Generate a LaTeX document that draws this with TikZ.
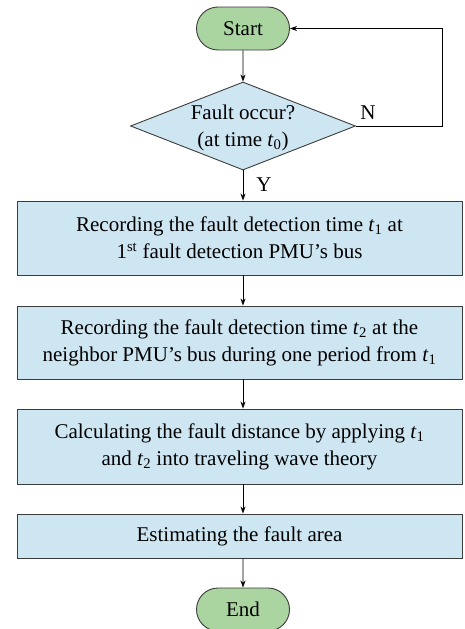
\documentclass[tikz,border=0pt]{standalone}
\usepackage{fontspec}
\setmainfont{Liberation Serif}
\usetikzlibrary{shapes.geometric,shapes.misc,arrows.meta}
\definecolor{termfill}{RGB}{170,212,160}
\definecolor{boxfill}{RGB}{206,230,242}
\definecolor{edge}{RGB}{60,60,60}
\newcommand{\tv}[1]{\textit{t}\textsubscript{#1}}
\begin{document}
\begin{tikzpicture}[x=1pt,y=-1pt,
  every node/.style={font=\fontsize{21}{27}\selectfont},
  term/.style={rounded rectangle, draw=edge, fill=termfill, line width=0.9pt,
    minimum width=93pt, minimum height=43pt, inner sep=0pt},
  decide/.style={diamond, draw=edge, fill=boxfill, line width=0.9pt,
    minimum width=225pt, minimum height=88pt, inner sep=0pt},
  procbox/.style={rectangle, draw=edge, fill=boxfill, line width=0.9pt,
    minimum width=445pt, align=center, inner sep=0pt},
  flow/.style={draw=black, line width=0.8pt, -{Stealth[length=7pt,width=5pt]}},
  lbl/.style={inner sep=0pt}]
\useasboundingbox (0,0) rectangle (464,629);
\node[term] (start) at (243,28.5) {Start};
\node[decide] (dec) at (243,126) {};
\node[lbl, align=center] (dectext) at (243,128) {Fault occur?\\(at time \tv{0})};
\node[procbox, minimum height=74pt] (b1) at (239.5,238) {Recording the fault detection time \tv{1} at\\1\textsuperscript{st} fault detection PMU’s bus};
\node[procbox, minimum height=73pt] (b2) at (239.5,342.5) {Recording the fault detection time \tv{2} at the\\neighbor PMU’s bus during one period from \tv{1}};
\node[procbox, minimum height=75pt] (b3) at (239.5,446.5) {Calculating the fault distance by applying \tv{1}\\and \tv{2} into traveling wave theory};
\node[procbox, minimum height=44pt] (b4) at (239.5,536) {Estimating the fault area};
\node[term] (end) at (243,609.5) {End};
\coordinate (nr) at (442,126);
\node[lbl] (nlab) at (368,113) {N};
\node[lbl] (ylab) at (264,185) {Y};
\draw[flow] (start) -- (dec);
\draw[flow] (dec.south) -- (dec.south |- b1.north);
\draw[flow] (dec.south |- b1.south) -- (dec.south |- b2.north);
\draw[flow] (dec.south |- b2.south) -- (dec.south |- b3.north);
\draw[flow] (dec.south |- b3.south) -- (dec.south |- b4.north);
\draw[flow] (dec.south |- b4.south) -- (end);
\draw[flow] (dec.east) -- (nr) |- (start.east);
\end{tikzpicture}
\end{document}
